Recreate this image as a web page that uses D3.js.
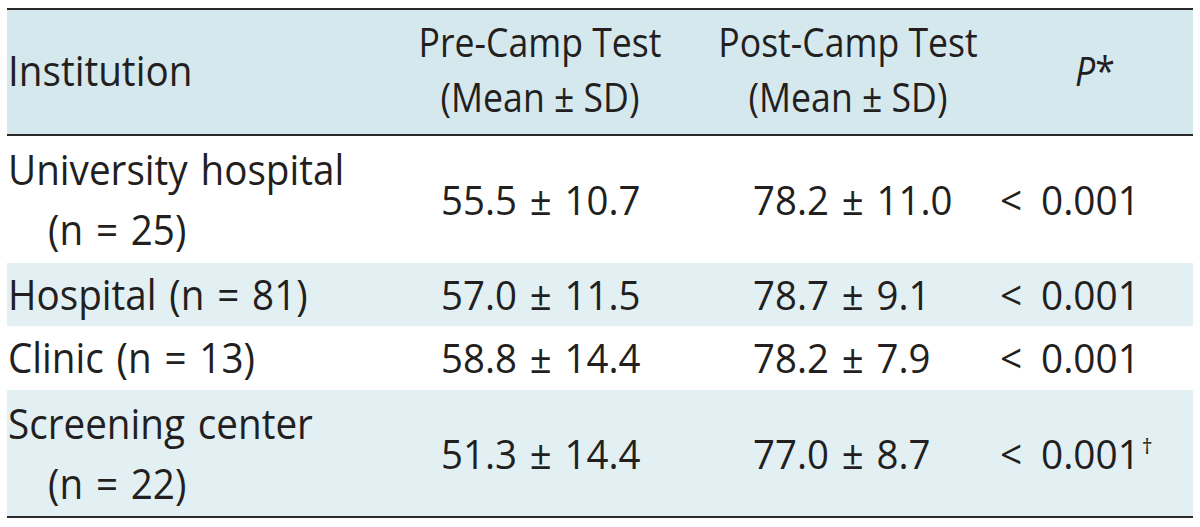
<!DOCTYPE html>
<html>
<head>
<meta charset="utf-8">
<script src="https://cdn.jsdelivr.net/npm/d3@7"></script>
<style>
  html, body { margin: 0; padding: 0; background: #ffffff; }
  svg { display: block; }
  text { font-family: "Open Sans", "Noto Sans", sans-serif; fill: #231f20; }
</style>
</head>
<body>
<svg id="chart" width="1200" height="527"></svg>
<script>
// ---------- data ----------
const columnHeaders = [["Institution"], ["Pre-Camp Test", "(Mean ± SD)"], ["Post-Camp Test", "(Mean ± SD)"], ["P"]];
const institutions = ["University hospital", "Hospital", "Clinic", "Screening center"];
const sampleSizes = [25, 81, 13, 22];
const wrapLabel = [true, false, false, true];
const preMean = [55.5, 57.0, 58.8, 51.3];
const preSD = [10.7, 11.5, 14.4, 14.4];
const postMean = [78.2, 78.7, 78.2, 77.0];
const postSD = [11.0, 9.1, 7.9, 8.7];
const pValues = ["< 0.001", "< 0.001", "< 0.001", "< 0.001"];
const pNotes = ["", "", "", "†"];

// ---------- layout ----------
const left = 7, right = 1193;
const headerTop = 8, headerBottom = 135, tableBottom = 517;
const styles = {
  header: { size: 40, squeeze: 0.89, ws: 0 },
  label:  { size: 42, squeeze: 0.92, ws: 3 },
  value:  { size: 40, squeeze: 0.96, ws: 3 },
  pval:   { size: 40, squeeze: 0.97, ws: 9 }
};

const svg = d3.select("#chart");

const rows = institutions.map((name, i) => ({
  name, n: sampleSizes[i], wrap: wrapLabel[i],
  pre: `${preMean[i].toFixed(1)} ± ${preSD[i].toFixed(1)}`,
  post: `${postMean[i].toFixed(1)} ± ${postSD[i].toFixed(1)}`,
  p: pValues[i], note: pNotes[i], units: wrapLabel[i] ? 2 : 1
}));
let acc = 0;
rows.forEach(r => { r.start = acc; acc += r.units; r.end = acc; });

const y = d3.scaleLinear().domain([0, acc]).range([headerBottom + 1, tableBottom]);

const colX = d3.scaleOrdinal()
  .domain(["label", "pre", "post", "p"])
  .range([8, 441, 753, 1000]);
const headX = d3.scaleOrdinal()
  .domain([0, 1, 2, 3])
  .range([8, 540, 848, 1095]);

// header background
svg.append("rect")
  .attr("x", left).attr("y", headerTop)
  .attr("width", right - left).attr("height", headerBottom - headerTop)
  .attr("fill", "#d5e8ee");

// row shading
svg.selectAll("rect.row").data(rows).join("rect")
  .attr("class", "row")
  .attr("x", left).attr("width", right - left)
  .attr("y", d => y(d.start)).attr("height", d => y(d.end) - y(d.start))
  .attr("fill", (d, i) => i % 2 === 1 ? "#e2f0f3" : "#ffffff");

// rules
[headerTop, headerBottom - 1, tableBottom - 1].forEach(yy => {
  svg.append("rect").attr("x", left).attr("y", yy).attr("width", right - left).attr("height", 2).attr("fill", "#2a2a2a");
});

function putText(x, yy, str, anchor, kind) {
  const s = styles[kind];
  return svg.append("text")
    .attr("transform", `translate(${x},${yy}) scale(${s.squeeze},1)`)
    .attr("text-anchor", anchor)
    .attr("font-size", s.size)
    .attr("word-spacing", s.ws)
    .text(str);
}

// header texts
columnHeaders.forEach((lines, i) => {
  if (i === 0) {
    putText(headX(i), 86, lines[0], "start", "label");
  } else if (i === 3) {
    const t = putText(headX(i), 86, "", "middle", "header");
    t.append("tspan").attr("font-style", "italic").text(lines[0]);
    t.append("tspan").text("*");
  } else {
    putText(headX(i), 57, lines[0], "middle", "header");
    putText(headX(i), 112, lines[1], "middle", "header");
  }
});

// body
rows.forEach(r => {
  const mid = (y(r.start) + y(r.end)) / 2;
  const base = mid + 15;
  if (r.wrap) {
    putText(colX("label"), mid - 15, r.name, "start", "label");
    putText(colX("label") + 40, mid + 45, `(n = ${r.n})`, "start", "label");
  } else {
    putText(colX("label"), base, `${r.name} (n = ${r.n})`, "start", "label");
  }
  putText(colX("pre"), base, r.pre, "start", "value");
  putText(colX("post"), base, r.post, "start", "value");
  const t = putText(colX("p"), base, r.p, "start", "pval");
  if (r.note) {
    t.append("tspan").attr("font-size", 22).attr("dy", -15).attr("dx", 2).text(r.note);
  }
});
</script>
</body>
</html>
